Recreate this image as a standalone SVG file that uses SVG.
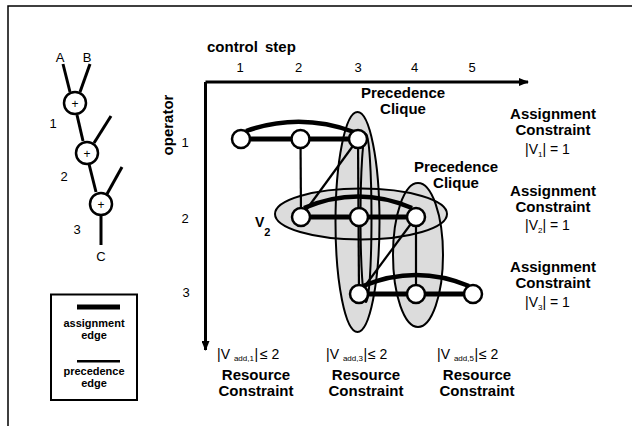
<svg xmlns="http://www.w3.org/2000/svg" width="632" height="428" viewBox="0 0 632 428">
  <style>
    .lbl { font-family: "Liberation Sans", Arial, sans-serif; fill: #000; }
    .b { font-weight: bold; }
    .node { fill: #fff; stroke: #000; stroke-width: 2.5; }
    .asg { fill: none; stroke: #000; stroke-width: 5; }
    .arc { fill: none; stroke: #000; stroke-width: 4.5; }
    .prec { fill: none; stroke: #000; stroke-width: 2.2; }
    .cliqfill { fill: #dcdcdc; stroke: none; }
    .cliqline { fill: none; stroke: #000; stroke-width: 2; }
    .dfg { fill: none; stroke: #000; stroke-width: 3; }
  </style>
  <defs>
    <marker id="arrow" markerWidth="10" markerHeight="8" refX="9" refY="4" orient="auto" markerUnits="userSpaceOnUse">
      <path d="M0,0 L10,4 L0,8 Z" fill="#000"/>
    </marker>
  </defs>

  <rect width="632" height="428" fill="#fff"/>
  <!-- frame (top and left edges) -->
  <path d="M8,426 L8,6 L632,6" fill="none" stroke="#000" stroke-width="1.5"/>

  <!-- data flow graph -->
  <g id="dfg">
    <text class="lbl" x="60" y="62" font-size="13" text-anchor="middle">A</text>
    <text class="lbl" x="87" y="62" font-size="13" text-anchor="middle">B</text>
    <line class="dfg" x1="63" y1="64" x2="70" y2="92"/>
    <line class="dfg" x1="90" y1="64" x2="80" y2="92"/>
    <line class="dfg" x1="77" y1="115" x2="83" y2="141"/>
    <line class="dfg" x1="111" y1="116" x2="94" y2="143"/>
    <line class="dfg" x1="89" y1="164" x2="96" y2="192"/>
    <line class="dfg" x1="122" y1="167" x2="107" y2="194"/>
    <line class="dfg" x1="101" y1="216" x2="101" y2="245"/>
    <g id="add1">
      <circle class="node" cx="75" cy="103" r="11"/>
      <text class="lbl" x="75" y="107.5" font-size="12" text-anchor="middle">+</text>
    </g>
    <g id="add2">
      <circle class="node" cx="87" cy="153" r="11"/>
      <text class="lbl" x="87" y="157.5" font-size="12" text-anchor="middle">+</text>
    </g>
    <g id="add3">
      <circle class="node" cx="101" cy="204" r="11"/>
      <text class="lbl" x="101" y="208.5" font-size="12" text-anchor="middle">+</text>
    </g>
    <text class="lbl" x="53" y="128" font-size="13" text-anchor="middle">1</text>
    <text class="lbl" x="64" y="181" font-size="13" text-anchor="middle">2</text>
    <text class="lbl" x="77" y="234" font-size="13" text-anchor="middle">3</text>
    <text class="lbl" x="101" y="261" font-size="13" text-anchor="middle">C</text>
  </g>

  <!-- legend -->
  <g id="legend">
    <rect x="51" y="294.5" width="86" height="105.5" fill="none" stroke="#000" stroke-width="2"/>
    <rect x="77" y="304.5" width="43" height="5" fill="#000"/>
    <text class="lbl b" x="94" y="327" font-size="11" text-anchor="middle">assignment</text>
    <text class="lbl b" x="94" y="338.5" font-size="11" text-anchor="middle">edge</text>
    <rect x="77" y="360" width="43" height="2.5" fill="#000"/>
    <text class="lbl b" x="94" y="375" font-size="11" text-anchor="middle">precedence</text>
    <text class="lbl b" x="94" y="386.5" font-size="11" text-anchor="middle">edge</text>
  </g>

  <!-- axes -->
  <g id="axes">
    <text class="lbl b" x="207" y="52" font-size="15" word-spacing="3">control step</text>
    <text class="lbl" x="240" y="72" font-size="13" text-anchor="middle">1</text>
    <text class="lbl" x="298.5" y="72" font-size="13" text-anchor="middle">2</text>
    <text class="lbl" x="358" y="72" font-size="13" text-anchor="middle">3</text>
    <text class="lbl" x="414.5" y="72" font-size="13" text-anchor="middle">4</text>
    <text class="lbl" x="472" y="72" font-size="13" text-anchor="middle">5</text>
    <text class="lbl b" transform="translate(173,125) rotate(-90)" font-size="15" text-anchor="middle">operator</text>
    <text class="lbl" x="185" y="147" font-size="13" text-anchor="middle">1</text>
    <text class="lbl" x="185" y="223" font-size="13" text-anchor="middle">2</text>
    <text class="lbl" x="186" y="297" font-size="13" text-anchor="middle">3</text>
    <path d="M205.5,82 L528,82" fill="none" stroke="#000" stroke-width="3" marker-end="url(#arrow)"/>
    <path d="M205.5,82 L205.5,350" fill="none" stroke="#000" stroke-width="3" marker-end="url(#arrow)"/>
  </g>

  <!-- cliques: fills first so every outline stays visible -->
  <g id="cliques">
    <ellipse class="cliqfill" cx="357.5" cy="222" rx="22" ry="110"/>
    <ellipse class="cliqfill" cx="418" cy="255" rx="25" ry="72"/>
    <ellipse class="cliqfill" cx="361" cy="214" rx="86" ry="25.5"/>
    <ellipse class="cliqline" cx="357.5" cy="222" rx="22" ry="110"/>
    <ellipse class="cliqline" cx="366" cy="218" rx="5.5" ry="84"/>
    <ellipse class="cliqline" cx="418" cy="255" rx="25" ry="72"/>
    <ellipse class="cliqline" cx="361" cy="214" rx="86" ry="25.5"/>
  </g>

  <!-- connectors -->
  <g id="edges">
    <!-- assignment edges -->
    <path class="asg" d="M241,139 L358,139"/>
    <path class="arc" d="M246,131 Q300,112 354,132"/>
    <path class="asg" d="M301,217 L416,217"/>
    <path class="arc" d="M304,208 Q358,185 412,208"/>
    <path class="asg" d="M359,294 L473,294"/>
    <path class="arc" d="M363,286 Q416,264 469,286"/>
    <!-- precedence edges -->
    <path class="prec" d="M300.5,139 L301,217"/>
    <path class="prec" d="M358,139 L301,217"/>
    <path class="prec" d="M358,139 L359,294"/>
    <path class="prec" d="M416,217 L359,294"/>
    <path class="prec" d="M416,217 L416,294"/>
  </g>

  <!-- compatibility nodes: operator / control step -->
  <g id="n1-1"><circle class="node" cx="241" cy="139" r="9"/></g>
  <g id="n1-2"><circle class="node" cx="300.5" cy="139" r="9"/></g>
  <g id="n1-3"><circle class="node" cx="358" cy="139" r="9"/></g>
  <g id="n2-2"><circle class="node" cx="301" cy="217" r="9"/></g>
  <g id="n2-3"><circle class="node" cx="359" cy="217" r="9"/></g>
  <g id="n2-4"><circle class="node" cx="416" cy="217" r="9"/></g>
  <g id="n3-3"><circle class="node" cx="359" cy="294" r="9"/></g>
  <g id="n3-4"><circle class="node" cx="416" cy="294" r="9"/></g>
  <g id="n3-5"><circle class="node" cx="473" cy="294" r="9"/></g>

  <!-- labels -->
  <g id="labels">
    <text class="lbl b" x="255" y="227" font-size="14">V<tspan font-size="11" dy="9">2</tspan></text>
    <text class="lbl b" x="403" y="98" font-size="15" text-anchor="middle">Precedence</text>
    <text class="lbl b" x="403" y="114" font-size="15" text-anchor="middle">Clique</text>
    <text class="lbl b" x="456" y="172" font-size="15" text-anchor="middle">Precedence</text>
    <text class="lbl b" x="456" y="187.5" font-size="15" text-anchor="middle">Clique</text>

    <text class="lbl b" x="553" y="119" font-size="15" text-anchor="middle">Assignment</text>
    <text class="lbl b" x="553" y="135" font-size="15" text-anchor="middle">Constraint</text>
    <text class="lbl" x="525" y="153.5" font-size="14">|V<tspan font-size="8" dy="3">1</tspan><tspan dy="-3">| = 1</tspan></text>
    <text class="lbl b" x="553" y="196" font-size="15" text-anchor="middle">Assignment</text>
    <text class="lbl b" x="553" y="212" font-size="15" text-anchor="middle">Constraint</text>
    <text class="lbl" x="525" y="230" font-size="14">|V<tspan font-size="8" dy="3">2</tspan><tspan dy="-3">| = 1</tspan></text>
    <text class="lbl b" x="553" y="272" font-size="15" text-anchor="middle">Assignment</text>
    <text class="lbl b" x="553" y="287.5" font-size="15" text-anchor="middle">Constraint</text>
    <text class="lbl" x="525" y="307" font-size="14">|V<tspan font-size="8" dy="3">3</tspan><tspan dy="-3">| = 1</tspan></text>

    <text class="lbl" x="217" y="359" font-size="14">|V <tspan font-size="8" dy="2">add,1</tspan><tspan x="254.5" dy="-2">|</tspan><tspan x="260">≤ 2</tspan></text>
    <text class="lbl b" x="256" y="380" font-size="15" text-anchor="middle">Resource</text>
    <text class="lbl b" x="256" y="396" font-size="15" text-anchor="middle">Constraint</text>
    <text class="lbl" x="326" y="359" font-size="14">|V <tspan font-size="8" dy="2">add,3</tspan><tspan x="363.5" dy="-2">|</tspan><tspan x="368">≤ 2</tspan></text>
    <text class="lbl b" x="366" y="380" font-size="15" text-anchor="middle">Resource</text>
    <text class="lbl b" x="366" y="396" font-size="15" text-anchor="middle">Constraint</text>
    <text class="lbl" x="437" y="359" font-size="14">|V <tspan font-size="8" dy="2">add,5</tspan><tspan x="474.5" dy="-2">|</tspan><tspan x="479">≤ 2</tspan></text>
    <text class="lbl b" x="477" y="380" font-size="15" text-anchor="middle">Resource</text>
    <text class="lbl b" x="477" y="396" font-size="15" text-anchor="middle">Constraint</text>
  </g>
</svg>
